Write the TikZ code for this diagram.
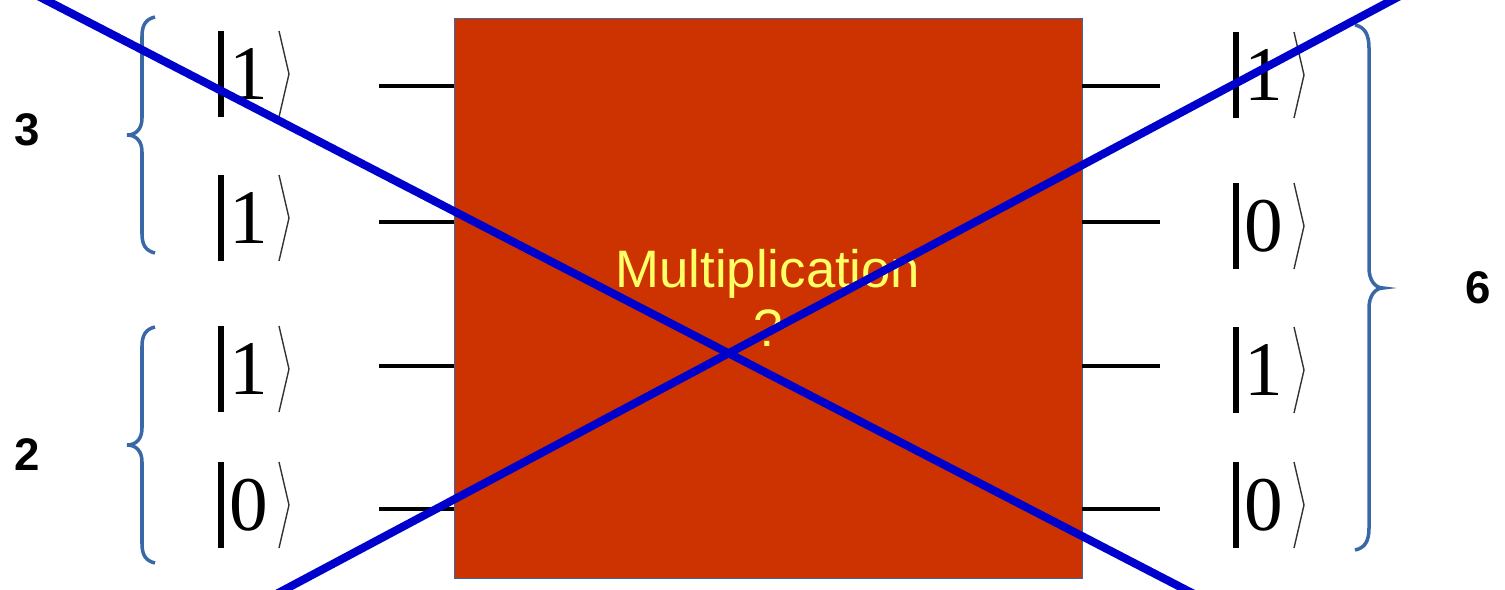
\documentclass[tikz,border=0pt]{standalone}
\usepackage{fontspec}
\setmainfont{Liberation Sans}
\newfontfamily\ketfont{Liberation Serif}
\usetikzlibrary{calc}
\definecolor{multRed}{HTML}{CC3300}
\definecolor{multYellow}{HTML}{FFFF66}
\definecolor{crossBlue}{HTML}{0000CC}
\definecolor{braceBlue}{HTML}{3A68A6}

\begin{document}
\begin{tikzpicture}[
    x=0.02cm, y=-0.02cm,
    mulbox/.style={draw=braceBlue, line width=0.4pt, fill=multRed,
                   minimum width=12.56cm, minimum height=11.2cm, inner sep=0pt,
                   align=center, text=multYellow, font=\fontsize{30}{34}\selectfont},
    ketnum/.style={font=\ketfont\fontsize{44}{44}\selectfont, inner sep=0pt},
    ketbar/.style={line width=3pt},
    ketangle/.style={line width=0.8pt, black!80},
    wire/.style={line width=2.2pt},
    brace/.style={braceBlue, line width=2pt},
    numlabel/.style={font=\bfseries\fontsize{26}{26}\selectfont},
    cross/.style={crossBlue, line width=4.6pt},
  ]
  \useasboundingbox (0,0) rectangle (1505,589);

  % the gate
  \node[mulbox] (mult) at (768,298) {Multiplication\\?};

  % input qubits
  \node[ketnum] (in1) at (249,74)  {1};
  \node[ketnum] (in2) at (249,218) {1};
  \node[ketnum] (in3) at (249,369) {1};
  \node[ketnum] (in4) at (249,505) {0};

  % output qubits
  \node[ketnum] (out1) at (1264,75)  {1};
  \node[ketnum] (out2) at (1264,226) {0};
  \node[ketnum] (out3) at (1264,370) {1};
  \node[ketnum] (out4) at (1264,505) {0};

  \foreach \k in {in1,in2,in3,in4,out1,out2,out3,out4} {
    \draw[ketbar] ($(\k)+(-28,-43)$) -- ($(\k)+(-28,43)$);
    \draw[ketangle] ($(\k)+(30,-43)$) -- ($(\k)+(40,0)$) -- ($(\k)+(30,43)$);
  }

  % wires
  \coordinate (wi1) at (379,86);
  \coordinate (wi2) at (379,222);
  \coordinate (wi3) at (379,366);
  \coordinate (wi4) at (379,509);
  \coordinate (wo1) at (1160,86);
  \coordinate (wo2) at (1160,222);
  \coordinate (wo3) at (1160,366);
  \coordinate (wo4) at (1160,509);
  \draw[wire] (wi1) -- (wi1 -| mult.west);
  \draw[wire] (wi2) -- (wi2 -| mult.west);
  \draw[wire] (wi3) -- (wi3 -| mult.west);
  \draw[wire] (wi4) -- (wi4 -| mult.west);
  \draw[wire] (mult.east |- wo1) -- (wo1);
  \draw[wire] (mult.east |- wo2) -- (wo2);
  \draw[wire] (mult.east |- wo3) -- (wo3);
  \draw[wire] (mult.east |- wo4) -- (wo4);

  % braces
  \draw[brace] (155,17) .. controls (146,19) and (142,25) .. (142,36) -- (142,118)
    .. controls (142,129) and (136,135) .. (127,135)
    .. controls (136,135) and (142,141) .. (142,152) -- (142,234)
    .. controls (142,245) and (146,251) .. (155,253);
  \draw[brace, shift={(0,310)}] (155,17) .. controls (146,19) and (142,25) .. (142,36) -- (142,118)
    .. controls (142,129) and (136,135) .. (127,135)
    .. controls (136,135) and (142,141) .. (142,152) -- (142,234)
    .. controls (142,245) and (146,251) .. (155,253);
  \draw[brace] (1355,25) .. controls (1365,27) and (1369,35) .. (1369,48) -- (1369,268)
    .. controls (1369,280) and (1375,288) .. (1383,288)
    .. controls (1375,288) and (1369,296) .. (1369,308) -- (1369,528)
    .. controls (1369,541) and (1365,548) .. (1355,550);

  \node[numlabel] (n3) at (27,130)  {3};
  \node[numlabel] (n2) at (27,455)  {2};
  \node[numlabel] (n6) at (1478,288) {6};

  % crossed out
  \begin{scope}
    \clip (0,0) rectangle (1505,589);
    \coordinate (xa) at (-20,-34);
    \coordinate (xb) at (1250,623);
    \coordinate (xc) at (1460,-36);
    \coordinate (xd) at (220,624);
    \draw[cross] (xa) -- (xb);
    \draw[cross] (xc) -- (xd);
  \end{scope}
\end{tikzpicture}
\end{document}
